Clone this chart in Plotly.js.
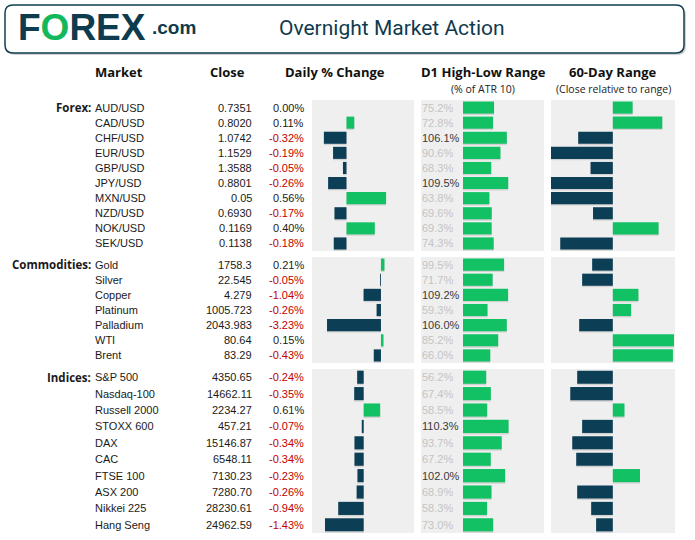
<!DOCTYPE html>
<html>
<head>
<meta charset="utf-8">
<script src="https://cdn.plot.ly/plotly-3.0.1.min.js"></script>
<style>html,body{margin:0;padding:0;background:#fff;}#chart{width:695px;height:540px;}</style>
</head>
<body>
<div id="chart"></div>
<script>
// ---------------- DATA ----------------
const fxMarkets = ["AUD/USD","CAD/USD","CHF/USD","EUR/USD","GBP/USD","JPY/USD","MXN/USD","NZD/USD","NOK/USD","SEK/USD"];
const fxClose   = ["0.7351","0.8020","1.0742","1.1529","1.3588","0.8801","0.05","0.6930","0.1169","0.1138"];
const fxChange  = [0.00, 0.11, -0.32, -0.19, -0.05, -0.26, 0.56, -0.17, 0.40, -0.18];
const fxD1      = [75.2, 72.8, 106.1, 90.6, 68.3, 109.5, 63.8, 69.6, 69.3, 74.3];
const fx60      = [16, 40, -28, -50, -18, -50, -50, -16, 37, -42.5];

const cmMarkets = ["Gold","Silver","Copper","Platinum","Palladium","WTI","Brent"];
const cmClose   = ["1758.3","22.545","4.279","1005.723","2043.983","80.64","83.29"];
const cmChange  = [0.21, -0.05, -1.04, -0.26, -3.23, 0.15, -0.43];
const cmD1      = [99.5, 71.7, 109.2, 59.3, 106.0, 85.2, 66.0];
const cm60      = [-16.7, -24.8, 20.7, 14.8, -27.2, 49.5, 48.6];

const ixMarkets = ["S&P 500","Nasdaq-100","Russell 2000","STOXX 600","DAX","CAC","FTSE 100","ASX 200","Nikkei 225","Hang Seng"];
const ixClose   = ["4350.65","14662.11","2234.27","457.21","15146.87","6548.11","7130.23","7280.70","28230.61","24962.59"];
const ixChange  = [-0.24, -0.35, 0.61, -0.07, -0.34, -0.34, -0.23, -0.26, -0.94, -1.43];
const ixD1      = [56.2, 67.4, 58.5, 110.3, 93.7, 67.2, 102.0, 68.9, 58.3, 73.0];
const ix60      = [-28.8, -34.4, 9.4, -24.8, -32.8, -29.6, 22, -28.8, -17.5, -13.5];

const sectionNames = ["Forex:", "Commodities:", "Indices:"];
const headers = ["Market", "Close", "Daily % Change", "D1 High-Low Range", "60-Day Range"];
const subHeaders = ["(% of ATR 10)", "(Close relative to range)"];
const chartTitle = "Overnight Market Action";

// ---------------- LAYOUT HELPERS ----------------
const W = 695, H = 540;
const px = p => p / W;
const py = p => 1 - p / H;

const GREEN = "#12C164", NAVY = "#0C3F56", PANEL = "#EFEFEF";
const TXT = "#1a1a1a", RED = "#C00000";
const DATAFONT = "Liberation Sans, Arial, sans-serif";
const sections = [
  {names: fxMarkets, close: fxClose, chg: fxChange, d1: fxD1, r60: fx60, top: 100, bot: 251, chgRange: [-0.488, 0.955]},
  {names: cmMarkets, close: cmClose, chg: cmChange, d1: cmD1, r60: cm60, top: 257, bot: 363, chgRange: [-4.13, 1.98]},
  {names: ixMarkets, close: ixClose, chg: ixChange, d1: ixD1, r60: ix60, top: 369, bot: 533, chgRange: [-1.91, 1.86]}
];
const cols = [[312, 414], [421, 544], [551, 675]];
const d1Range = [-101.7, 196.1];
const r60Range = [-50, 50.3];

const traces = [];
const layout = {
  width: W, height: H,
  margin: {l: 0, r: 0, t: 0, b: 0},
  paper_bgcolor: "#ffffff",
  plot_bgcolor: PANEL,
  showlegend: false,
  hovermode: false,
  annotations: [],
  shapes: []
};
const ann = layout.annotations;
function A(o) { o.showarrow = false; o.borderpad = 0; o.borderwidth = 0; ann.push(o); }

let k = 0;
sections.forEach((s, si) => {
  const n = s.names.length;
  const idx = s.names.map((_, i) => i);
  const colData = [s.chg, s.d1, s.r60];
  const ranges = [s.chgRange, d1Range, r60Range];
  let firstY = null;
  cols.forEach((c, ci) => {
    k++;
    const xa = "xaxis" + (k === 1 ? "" : k), ya = "yaxis" + (k === 1 ? "" : k);
    const xr = "x" + (k === 1 ? "" : k), yr = "y" + (k === 1 ? "" : k);
    if (ci === 0) firstY = yr;
    layout[xa] = {domain: [px(c[0]), px(c[1])], range: ranges[ci], anchor: yr,
      showgrid: false, zeroline: false, showticklabels: false, showline: false, ticks: "", fixedrange: true};
    layout[ya] = {domain: [py(s.bot), py(s.top)], range: [n - 0.5, -0.5], anchor: xr,
      showgrid: false, zeroline: false, showticklabels: false, showline: false, ticks: "", fixedrange: true};
    const vals = colData[ci];
    const colors = vals.map(v => ci === 1 ? GREEN : (v >= 0 ? GREEN : NAVY));
    // soft drop shadow
    traces.push({type: "bar", orientation: "h", x: vals, y: idx.map(i => i + 0.09), xaxis: xr, yaxis: yr,
      width: 0.8, marker: {color: "rgba(0,0,0,0.12)", line: {width: 0}}, hoverinfo: "skip"});
    traces.push({type: "bar", orientation: "h", x: vals, y: idx, xaxis: xr, yaxis: yr,
      width: 0.8, marker: {color: colors, line: {width: 0}}, hoverinfo: "skip"});
    if (ci === 1) {
      vals.forEach((v, i) => {
        A({xref: xr, yref: yr, x: -99, y: i, xanchor: "left", yanchor: "middle",
          text: v.toFixed(1) + "%", font: {family: DATAFONT, size: 11, color: v >= 100 ? "#3a3a3a" : "#c4c4c4"}});
      });
    }
  });
  // text columns
  A({xref: "paper", yref: firstY, x: px(91), y: 0, xanchor: "right", yanchor: "middle",
    text: "<b>" + sectionNames[si] + "</b>", font: {family: "Open Sans", size: 11.5, color: TXT}});
  s.names.forEach((nm, i) => {
    A({xref: "paper", yref: firstY, x: px(95), y: i, xanchor: "left", yanchor: "middle",
      text: nm.replace("&", "&amp;"), font: {family: DATAFONT, size: 11, color: TXT}});
    A({xref: "paper", yref: firstY, x: px(252), y: i, xanchor: "right", yanchor: "middle",
      text: s.close[i], font: {family: DATAFONT, size: 11, color: TXT}});
    const c = s.chg[i];
    A({xref: "paper", yref: firstY, x: px(303.5), y: i, xanchor: "right", yanchor: "middle",
      text: c.toFixed(2) + "%", font: {family: DATAFONT, size: 11, color: c < 0 ? RED : TXT}});
  });
});

// headers
const hdrFont = {family: "Open Sans", size: 13, color: "#111"};
A({xref: "paper", yref: "paper", x: px(95), y: py(72), xanchor: "left", yanchor: "middle", text: "<b>" + headers[0] + "</b>", font: hdrFont});
A({xref: "paper", yref: "paper", x: px(227), y: py(72), xanchor: "center", yanchor: "middle", text: "<b>" + headers[1] + "</b>", font: hdrFont});
A({xref: "paper", yref: "paper", x: px(335), y: py(72), xanchor: "center", yanchor: "middle", text: "<b>" + headers[2] + "</b>", font: hdrFont});
A({xref: "paper", yref: "paper", x: px(483), y: py(72), xanchor: "center", yanchor: "middle", text: "<b>" + headers[3] + "</b>", font: hdrFont});
A({xref: "paper", yref: "paper", x: px(613), y: py(72), xanchor: "center", yanchor: "middle", text: "<b>" + headers[4] + "</b>", font: hdrFont});
const subFont = {family: "Open Sans", size: 10.5, color: "#222"};
A({xref: "paper", yref: "paper", x: px(483), y: py(89), xanchor: "center", yanchor: "middle", text: subHeaders[0], font: subFont});
A({xref: "paper", yref: "paper", x: px(613), y: py(89), xanchor: "center", yanchor: "middle", text: subHeaders[1], font: subFont});

// header box (rounded rect with shadow)
function rrect(x0, y0, x1, y1, r) {
  const X = v => px(v).toFixed(5), Y = v => py(v).toFixed(5);
  return "M" + X(x0 + r) + "," + Y(y0) + " L" + X(x1 - r) + "," + Y(y0) +
    " Q" + X(x1) + "," + Y(y0) + " " + X(x1) + "," + Y(y0 + r) +
    " L" + X(x1) + "," + Y(y1 - r) + " Q" + X(x1) + "," + Y(y1) + " " + X(x1 - r) + "," + Y(y1) +
    " L" + X(x0 + r) + "," + Y(y1) + " Q" + X(x0) + "," + Y(y1) + " " + X(x0) + "," + Y(y1 - r) +
    " L" + X(x0) + "," + Y(y0 + r) + " Q" + X(x0) + "," + Y(y0) + " " + X(x0 + r) + "," + Y(y0) + " Z";
}
layout.shapes.push({type: "path", xref: "paper", yref: "paper", path: rrect(7, 7, 686, 55, 8), fillcolor: "rgba(0,0,0,0.18)", line: {width: 0}});
layout.shapes.push({type: "path", xref: "paper", yref: "paper", path: rrect(5, 5, 684, 53, 8), fillcolor: "#ffffff", line: {color: "#123E50", width: 1.5}});

// logo + title
A({xref: "paper", yref: "paper", x: px(18), y: py(28), xanchor: "left", yanchor: "middle",
  text: "<b>F<span style='color:#12B85C'>O</span>REX</b>", font: {family: DATAFONT, size: 37, color: "#0E3B4D"}});
A({xref: "paper", yref: "paper", x: px(152), y: py(27), xanchor: "left", yanchor: "middle",
  text: "<b>.com</b>", font: {family: DATAFONT, size: 19, color: "#0E3B4D"}});
A({xref: "paper", yref: "paper", x: px(392), y: py(28), xanchor: "center", yanchor: "middle",
  text: chartTitle, font: {family: "Roboto", size: 21, color: "#0E3B4D"}});

Plotly.newPlot("chart", traces, layout, {staticPlot: true, displayModeBar: false});
</script>
</body>
</html>
